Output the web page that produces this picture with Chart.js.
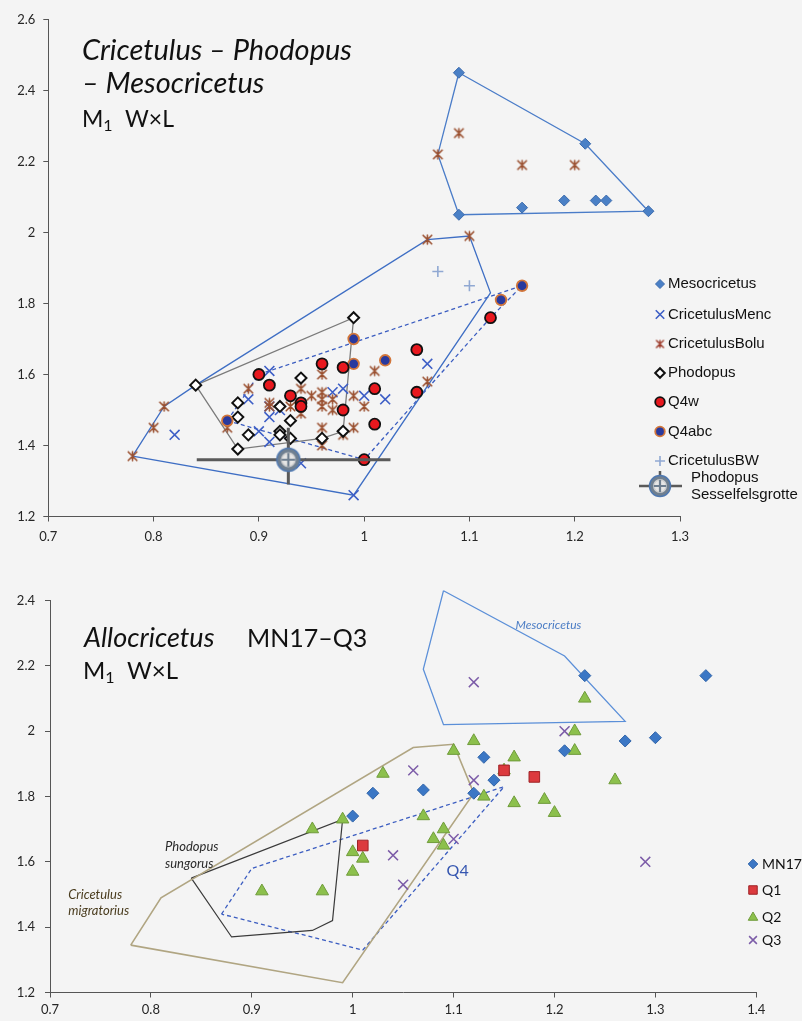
<!DOCTYPE html>
<html>
<head>
<meta charset="utf-8">
<title>Cricetulus – Phodopus – Mesocricetus / Allocricetus M1 W×L</title>
<script src="https://cdn.jsdelivr.net/npm/chart.js@4.4.1/dist/chart.umd.min.js"></script>
<style>
  html, body { margin: 0; padding: 0; background: #f4f4f4; }
  #wrap { position: relative; width: 802px; height: 1021px; overflow: hidden; }
  #topChart { position: absolute; left: 0; top: 0; }
  #bottomChart { position: absolute; left: 0; top: 550px; }
</style>
</head>
<body>
<div id="wrap">
  <canvas id="topChart" width="802" height="550"></canvas>
  <canvas id="bottomChart" width="802" height="471"></canvas>
</div>
<script>
// ---------- Upper panel: M1 width (x) × length (y), mm ----------
const topXTicks = [0.7, 0.8, 0.9, 1.0, 1.1, 1.2, 1.3];
const topXLabels = ['0.7', '0.8', '0.9', '1', '1.1', '1.2', '1.3'];
const topYTicks = [1.2, 1.4, 1.6, 1.8, 2.0, 2.2, 2.4, 2.6];
const topYLabels = ['1.2', '1.4', '1.6', '1.8', '2', '2.2', '2.4', '2.6'];

const mesocricetus = [[1.09, 2.45], [1.21, 2.25], [1.09, 2.05], [1.15, 2.07], [1.19, 2.09],
  [1.22, 2.09], [1.23, 2.09], [1.27, 2.06]];
const cricetulusMenc = [[0.82, 1.43], [0.89, 1.53], [0.90, 1.44], [0.91, 1.61], [0.91, 1.51],
  [0.91, 1.48], [0.91, 1.41], [0.92, 1.50], [0.94, 1.35], [0.97, 1.55], [0.98, 1.56],
  [1.00, 1.54], [1.02, 1.53], [1.06, 1.63], [0.99, 1.26]];
const cricetulusBolu = [[0.78, 1.37], [0.80, 1.45], [0.81, 1.51], [0.87, 1.45], [0.89, 1.56],
  [0.91, 1.52], [0.91, 1.51], [0.93, 1.51], [0.94, 1.56], [0.94, 1.49], [0.95, 1.54],
  [0.96, 1.60], [0.96, 1.55], [0.96, 1.53], [0.96, 1.51], [0.97, 1.53], [0.97, 1.50],
  [0.96, 1.45], [0.96, 1.40], [0.98, 1.43], [0.99, 1.54], [1.00, 1.51], [0.99, 1.45],
  [1.01, 1.61], [1.06, 1.58], [1.06, 1.98], [1.10, 1.99], [1.07, 2.22], [1.09, 2.28],
  [1.15, 2.19], [1.20, 2.19]];
const phodopus = [[0.84, 1.57], [0.88, 1.52], [0.88, 1.48], [0.89, 1.43], [0.88, 1.39],
  [0.92, 1.51], [0.93, 1.47], [0.92, 1.44], [0.92, 1.43], [0.93, 1.42], [0.94, 1.59],
  [0.96, 1.42], [0.98, 1.44], [0.99, 1.76]];
const q4w = [[0.90, 1.60], [0.91, 1.57], [0.93, 1.54], [0.94, 1.52], [0.94, 1.51], [0.96, 1.63],
  [0.98, 1.62], [0.98, 1.50], [1.01, 1.56], [1.01, 1.46], [1.05, 1.67], [1.05, 1.55],
  [1.00, 1.36], [1.12, 1.76]];
const q4abc = [[0.87, 1.47], [0.99, 1.70], [0.99, 1.63], [1.02, 1.64], [1.13, 1.81], [1.15, 1.85]];
const cricetulusBW = [[1.07, 1.89], [1.10, 1.85]];
const sesselfelsgrotte = [[0.928, 1.36]];
const sesselWidthRange = [0.841, 1.025];
const sesselLengthRange = [1.29, 1.45];

// outline polygons (upper panel)
const outlineCricetulus = [[0.78, 1.37], [0.81, 1.51], [0.84, 1.57], [1.06, 1.98], [1.10, 1.99],
  [1.12, 1.83], [0.99, 1.26]];
const outlineMesocricetus = [[1.09, 2.45], [1.21, 2.25], [1.27, 2.06], [1.09, 2.05], [1.07, 2.22]];
const outlinePhodopus = [[0.84, 1.57], [0.99, 1.76], [0.98, 1.44], [0.96, 1.42], [0.88, 1.39]];
const outlineQ4 = [[0.87, 1.47], [0.90, 1.60], [1.15, 1.85], [1.12, 1.76], [1.00, 1.36]];

// ---------- Lower panel: Allocricetus MN17–Q3 ----------
const botXTicks = [0.7, 0.8, 0.9, 1.0, 1.1, 1.2, 1.3, 1.4];
const botXLabels = ['0.7', '0.8', '0.9', '1', '1.1', '1.2', '1.3', '1.4'];
const botYTicks = [1.2, 1.4, 1.6, 1.8, 2.0, 2.2, 2.4];
const botYLabels = ['1.2', '1.4', '1.6', '1.8', '2', '2.2', '2.4'];

const mn17 = [[1.00, 1.74], [1.02, 1.81], [1.07, 1.82], [1.12, 1.81], [1.13, 1.92], [1.14, 1.85],
  [1.21, 1.94], [1.23, 2.17], [1.27, 1.97], [1.30, 1.98], [1.35, 2.17]];
const q1 = [[1.01, 1.65], [1.15, 1.88], [1.18, 1.86]];
const q2 = [[0.91, 1.51], [0.96, 1.70], [0.97, 1.51], [0.99, 1.73], [1.00, 1.63], [1.00, 1.57],
  [1.01, 1.61], [1.03, 1.87], [1.07, 1.74], [1.08, 1.67], [1.09, 1.70], [1.09, 1.65],
  [1.10, 1.94], [1.12, 1.97], [1.13, 1.80], [1.15, 1.88], [1.16, 1.92], [1.16, 1.78],
  [1.19, 1.79], [1.20, 1.75], [1.22, 2.00], [1.22, 1.94], [1.23, 2.10], [1.26, 1.85]];
const q3 = [[1.04, 1.62], [1.05, 1.53], [1.06, 1.88], [1.10, 1.67], [1.12, 1.85], [1.12, 2.15],
  [1.21, 2.00], [1.29, 1.60]];

// outline polygons (lower panel)
const outlineMesocricetusB = [[1.09, 2.43], [1.21, 2.23], [1.27, 2.03], [1.09, 2.02], [1.07, 2.19]];
const outlineMigratorius = [[0.78, 1.345], [0.81, 1.49], [1.06, 1.95], [1.10, 1.96], [1.12, 1.81],
  [0.99, 1.23]];
const outlineSungorus = [[0.84, 1.55], [0.99, 1.73], [0.98, 1.42], [0.96, 1.39], [0.88, 1.37]];
const outlineQ4B = [[0.87, 1.44], [0.90, 1.58], [1.15, 1.83], [1.01, 1.33]];

// ---------- marker images ----------
function asteriskMarker(color, size, lw) {
  const c = document.createElement('canvas');
  c.width = c.height = size;
  const g = c.getContext('2d');
  const m = size / 2, r = size / 2 - 1;
  g.strokeStyle = color;
  g.lineWidth = lw;
  g.lineCap = 'round';
  g.beginPath();
  g.moveTo(m - r * 0.78, m - r * 0.78); g.lineTo(m + r * 0.78, m + r * 0.78);
  g.moveTo(m + r * 0.78, m - r * 0.78); g.lineTo(m - r * 0.78, m + r * 0.78);
  g.moveTo(m, m - r * 0.8); g.lineTo(m, m + r * 0.8);
  g.stroke();
  return c;
}
function sightMarker(size) {
  const c = document.createElement('canvas');
  c.width = c.height = size;
  const g = c.getContext('2d');
  const m = size / 2;
  g.beginPath(); g.arc(m, m, m - 1.5, 0, Math.PI * 2);
  g.fillStyle = '#6f7f90'; g.fill();
  g.lineWidth = 1.5; g.strokeStyle = '#4f78b0'; g.stroke();
  g.beginPath(); g.arc(m, m, size * 0.26, 0, Math.PI * 2);
  g.fillStyle = '#e6e6e6'; g.fill();
  g.lineWidth = 1.4; g.strokeStyle = '#d0d0d0'; g.stroke();
  g.strokeStyle = '#6f7f90'; g.lineWidth = 2.2;
  g.beginPath();
  g.moveTo(m, m - size * 0.26); g.lineTo(m, m + size * 0.26);
  g.moveTo(m - size * 0.26, m); g.lineTo(m + size * 0.26, m);
  g.stroke();
  return c;
}
const boluMarker = asteriskMarker('#9a5030', 13, 1.6);
const boluLegendMarker = asteriskMarker('#9c3a2a', 11, 1.4);
const sesselMarker = sightMarker(26);
const sesselLegendMarker = sightMarker(24);

// ---------- helpers ----------
const pts = arr => arr.map(([x, y]) => ({ x, y }));
const closed = arr => pts(arr.concat([arr[0]]));

function points(label, data, style, order) {
  return Object.assign({ label, data: pts(data), showLine: false, order }, style);
}
function outline(label, data, color, width, dash, order) {
  return {
    label, data: closed(data), showLine: true, pointRadius: 0, borderColor: color,
    borderWidth: width, borderDash: dash || [], fill: false, order, clip: false
  };
}
function axis(min, max, ticks, labels, pad, fit) {
  return {
    type: 'linear', min, max,
    afterBuildTicks: s => { s.ticks = ticks.map(v => ({ value: v })); },
    afterFit: fit,
    ticks: {
      callback: (v, i) => labels[i], autoSkip: false, maxRotation: 0,
      font: { family: 'Lato', size: 13 }, color: '#262626', padding: pad
    },
    grid: { display: true, drawOnChartArea: false, drawTicks: true, tickLength: 5, tickColor: '#555', tickWidth: 1 },
    border: { display: true, color: '#555', width: 1 }
  };
}
function drawRuns(ctx, x, y, runs) {
  let cx = x;
  for (const r of runs) {
    if (r.x !== undefined) cx = r.x;
    ctx.font = r.font;
    ctx.fillStyle = r.color || '#111';
    ctx.fillText(r.t, cx, y + (r.dy || 0));
    cx += ctx.measureText(r.t).width;
  }
}
function textPlugin(lines, notes) {
  return {
    id: 'panelText',
    afterDraw(chart) {
      const ctx = chart.ctx;
      ctx.save();
      ctx.textBaseline = 'alphabetic';
      ctx.textAlign = 'left';
      lines.forEach(l => drawRuns(ctx, l.x, l.y, l.runs));
      const xs = chart.scales.x, ys = chart.scales.y;
      (notes || []).forEach(n => {
        ctx.font = n.font;
        ctx.fillStyle = n.color;
        ctx.textAlign = n.align || 'left';
        ctx.textBaseline = 'middle';
        ctx.fillText(n.text, xs.getPixelForValue(n.x), ys.getPixelForValue(n.y));
      });
      ctx.restore();
    }
  };
}
function legendPlugin(cfg) {
  return {
    id: 'sideLegend',
    afterDraw(chart) {
      const ctx = chart.ctx;
      ctx.save();
      for (const it of cfg.items) {
        const ds = chart.data.datasets.find(d => d.label === it.label);
        if (it.bars) {
          ctx.strokeStyle = '#5a5a5a';
          ctx.lineWidth = 2.5;
          ctx.beginPath();
          ctx.moveTo(it.bars[0], it.y); ctx.lineTo(it.bars[1], it.y);
          ctx.moveTo(cfg.markerX, it.bars[2]); ctx.lineTo(cfg.markerX, it.bars[3]);
          ctx.stroke();
        }
        if (ds) {
          ctx.fillStyle = ds.pointBackgroundColor || 'rgba(0,0,0,0)';
          ctx.strokeStyle = ds.pointBorderColor || '#000';
          ctx.lineWidth = ds.pointBorderWidth || 1;
          Chart.helpers.drawPoint(ctx, {
            pointStyle: it.marker || ds.pointStyle, radius: it.r, rotation: 0,
            borderWidth: ds.pointBorderWidth || 1
          }, cfg.markerX, it.y);
        }
        ctx.font = cfg.font;
        ctx.fillStyle = cfg.color;
        ctx.textAlign = 'left';
        ctx.textBaseline = 'middle';
        const lines = it.lines || [it.label];
        const tx = it.textX !== undefined ? it.textX : cfg.textX;
        lines.forEach((t, k) => ctx.fillText(t, tx, it.y + (k - (lines.length - 1) / 2) * cfg.lineHeight));
      }
      ctx.restore();
    }
  };
}

Chart.defaults.font.family = 'Lato';

// ---------- upper chart ----------
new Chart(document.getElementById('topChart'), {
  type: 'scatter',
  data: {
    datasets: [
      outline('outline Cricetulus', outlineCricetulus, '#3e6ec4', 1.3, null, 20),
      outline('outline Mesocricetus', outlineMesocricetus, '#4a7cc8', 1.3, null, 20),
      outline('outline Phodopus', outlinePhodopus, '#7a7a7a', 1.3, null, 20),
      outline('outline Q4', outlineQ4, '#3a5cc0', 1.3, [4, 3], 20),
      points('Mesocricetus', mesocricetus, {
        pointStyle: 'rectRot', pointRadius: 5.5, pointBackgroundColor: '#4a80c6',
        pointBorderColor: '#3b6aac', pointBorderWidth: 1
      }, 9),
      points('CricetulusMenc', cricetulusMenc, {
        pointStyle: 'crossRot', pointRadius: 7, pointBackgroundColor: 'rgba(0,0,0,0)',
        pointBorderColor: '#3d5ec6', pointBorderWidth: 1.6
      }, 8),
      points('CricetulusBolu', cricetulusBolu, {
        pointStyle: boluMarker, pointRadius: 6, pointBackgroundColor: 'rgba(0,0,0,0)',
        pointBorderColor: '#9c5533', pointBorderWidth: 1.4
      }, 7),
      points('Phodopus', phodopus, {
        pointStyle: 'rectRot', pointRadius: 5.5, pointBackgroundColor: '#ffffff',
        pointBorderColor: '#111111', pointBorderWidth: 2
      }, 6),
      points('Q4abc', q4abc, {
        pointStyle: 'circle', pointRadius: 5.3, pointBackgroundColor: '#28399e',
        pointBorderColor: '#d2763a', pointBorderWidth: 1.8
      }, 5),
      points('Q4w', q4w, {
        pointStyle: 'circle', pointRadius: 5.5, pointBackgroundColor: '#e8181e',
        pointBorderColor: '#111111', pointBorderWidth: 1.8
      }, 4),
      points('CricetulusBW', cricetulusBW, {
        pointStyle: 'cross', pointRadius: 5.5, pointBackgroundColor: 'rgba(0,0,0,0)',
        pointBorderColor: '#90a8d2', pointBorderWidth: 1.6
      }, 3),
      {
        label: 'Sesselfelsgrotte width range', showLine: true, pointRadius: 0, order: 2,
        borderColor: '#5a5a5a', borderWidth: 3,
        data: pts([[sesselWidthRange[0], sesselfelsgrotte[0][1]], [sesselWidthRange[1], sesselfelsgrotte[0][1]]])
      },
      {
        label: 'Sesselfelsgrotte length range', showLine: true, pointRadius: 0, order: 2,
        borderColor: '#5a5a5a', borderWidth: 3,
        data: pts([[sesselfelsgrotte[0][0], sesselLengthRange[0]], [sesselfelsgrotte[0][0], sesselLengthRange[1]]])
      },
      points('Phodopus Sesselfelsgrotte', sesselfelsgrotte, {
        pointStyle: sesselMarker, pointRadius: 13, pointBackgroundColor: 'rgba(0,0,0,0)',
        pointBorderColor: '#4f78b0', pointBorderWidth: 1
      }, 1)
    ]
  },
  options: {
    responsive: false, animation: false, events: [],
    layout: { padding: { left: 0, top: 19.5, right: 122, bottom: 0 } },
    scales: {
      x: axis(0.7, 1.3, topXTicks, topXLabels, 8, s => { s.height = 33.5; }),
      y: axis(1.2, 2.6, topYTicks, topYLabels, 8, s => { s.width = 48.3; })
    },
    plugins: { legend: { display: false }, tooltip: { enabled: false } }
  },
  plugins: [
    textPlugin([
      { x: 82, y: 60, runs: [{ t: 'Cricetulus – Phodopus', font: 'italic 29px Lato' }] },
      { x: 82, y: 93, runs: [{ t: '– Mesocricetus', font: 'italic 29px Lato' }] },
      { x: 82, y: 127, runs: [
        { t: 'M', font: '23px Lato' },
        { t: '1', font: '16px Lato', dy: 4 },
        { t: 'W×L', font: '23px Lato', x: 125 }
      ] }
    ]),
    legendPlugin({
      markerX: 660, textX: 668, font: '15px "Liberation Sans"', color: '#111', lineHeight: 17,
      items: [
        { label: 'Mesocricetus', y: 284, r: 4.5 },
        { label: 'CricetulusMenc', y: 314.5, r: 6 },
        { label: 'CricetulusBolu', y: 344, r: 5, marker: boluLegendMarker },
        { label: 'Phodopus', y: 373, r: 4.8 },
        { label: 'Q4w', y: 402, r: 4.8 },
        { label: 'Q4abc', y: 431.5, r: 4.8 },
        { label: 'CricetulusBW', y: 461, r: 5 },
        { label: 'Phodopus Sesselfelsgrotte', y: 486, r: 12, marker: sesselLegendMarker,
          lines: ['Phodopus', 'Sesselfelsgrotte'], textX: 691, bars: [639, 682, 471, 495] }
      ]
    })
  ]
});

// ---------- lower chart ----------
new Chart(document.getElementById('bottomChart'), {
  type: 'scatter',
  data: {
    datasets: [
      outline('outline Mesocricetus', outlineMesocricetusB, '#5b8fd8', 1.3, null, 20),
      outline('outline Cricetulus migratorius', outlineMigratorius, '#b0a582', 1.6, null, 20),
      outline('outline Phodopus sungorus', outlineSungorus, '#3a3a3a', 1.2, null, 20),
      outline('outline Q4', outlineQ4B, '#3a5cc0', 1.3, [4, 3], 20),
      points('Q3', q3, {
        pointStyle: 'crossRot', pointRadius: 7, pointBackgroundColor: 'rgba(0,0,0,0)',
        pointBorderColor: '#7c5ca8', pointBorderWidth: 1.5
      }, 5),
      points('Q2', q2, {
        pointStyle: 'triangle', pointRadius: 7.2, pointBackgroundColor: '#8cc04c',
        pointBorderColor: '#6f9b3a', pointBorderWidth: 1
      }, 4),
      points('Q1', q1, {
        pointStyle: 'rect', pointRadius: 7.5, pointBackgroundColor: '#dc3a3e',
        pointBorderColor: '#9e2226', pointBorderWidth: 1
      }, 3),
      points('MN17', mn17, {
        pointStyle: 'rectRot', pointRadius: 6, pointBackgroundColor: '#3b77c5',
        pointBorderColor: '#2f63a8', pointBorderWidth: 1
      }, 2)
    ]
  },
  options: {
    responsive: false, animation: false, events: [],
    layout: { padding: { left: 0, top: 50.5, right: 45.7, bottom: 0 } },
    scales: {
      x: axis(0.7, 1.4, botXTicks, botXLabels, 5, s => { s.height = 28.5; }),
      y: axis(1.2, 2.4, botYTicks, botYLabels, 10, s => { s.width = 50; })
    },
    plugins: { legend: { display: false }, tooltip: { enabled: false } }
  },
  plugins: [
    textPlugin([
      { x: 84, y: 97, runs: [
        { t: 'Allocricetus', font: 'italic 27px Lato' },
        { t: 'MN17–Q3', font: '25px Lato', x: 247 }
      ] },
      { x: 83, y: 129, runs: [
        { t: 'M', font: '24px Lato' },
        { t: '1', font: '16px Lato', dy: 4 },
        { t: 'W×L', font: '24px Lato', x: 127 }
      ] }
    ], [
      { text: 'Mesocricetus', x: 1.194, y: 2.325, font: 'italic 12px Lato', color: '#4a7cc4', align: 'center' },
      { text: 'Q4', x: 1.104, y: 1.573, font: '16px Lato', color: '#3556b0', align: 'center' },
      { text: 'Phodopus', x: 0.814, y: 1.646, font: 'italic 13px Lato', color: '#2a2a2a' },
      { text: 'sungorus', x: 0.814, y: 1.595, font: 'italic 13px Lato', color: '#2a2a2a' },
      { text: 'Cricetulus', x: 0.718, y: 1.498, font: 'italic 13px Lato', color: '#4a3c1e' },
      { text: 'migratorius', x: 0.718, y: 1.450, font: 'italic 13px Lato', color: '#4a3c1e' }
    ]),
    legendPlugin({
      markerX: 753, textX: 762, font: '14px Lato', color: '#111', lineHeight: 16,
      items: [
        { label: 'MN17', y: 314, r: 4.8 },
        { label: 'Q1', y: 340, r: 6 },
        { label: 'Q2', y: 367.5, r: 5.5 },
        { label: 'Q3', y: 390, r: 5.5 }
      ]
    })
  ]
});
</script>
</body>
</html>
